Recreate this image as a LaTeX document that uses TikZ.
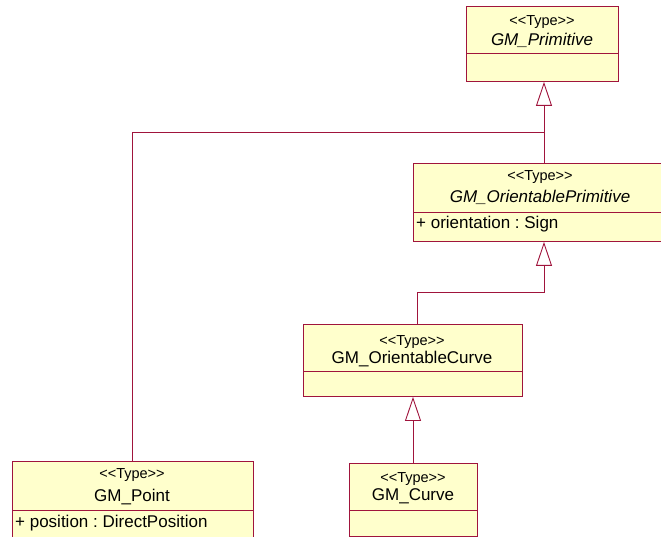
\documentclass[tikz,border=0pt]{standalone}
\usepackage{fontspec}
\setmainfont{Liberation Sans}[Ligatures=TeXOff]
\usetikzlibrary{arrows.meta}
\definecolor{umlline}{RGB}{160,20,60}
\definecolor{umlfill}{RGB}{255,255,204}
\frenchspacing
% stereotype label with plain angle brackets
\newcommand{\umltype}{<\kern0pt<Type>\kern0pt>}
\begin{document}
\begin{tikzpicture}[x=1pt,y=-1pt,
  classbox/.style={draw=umlline,fill=umlfill,line width=0.9pt,rectangle,inner sep=0pt,anchor=north west},
  stereo/.style={anchor=base,inner sep=0pt,font=\fontsize{14.5}{16}\selectfont},
  cname/.style={anchor=base,inner sep=0pt,font=\fontsize{17}{19}\selectfont},
  attr/.style={anchor=base west,inner sep=0pt,font=\fontsize{17}{19}\selectfont},
  divider/.style={draw=umlline,line width=0.9pt},
  assoc/.style={draw=umlline,line width=0.9pt},
  gen/.style={assoc,-{Triangle[open,length=24pt,width=16pt,fill=white]}}]
\useasboundingbox[fill=white] (0,0) rectangle (661,537);

% GM_Primitive
\node[classbox,minimum width=152pt,minimum height=75pt] (prim) at (466,6) {};
\draw[divider] (466,53) -- (618,53);
\node[stereo] (primS) at (542,26) {\umltype};
\node[cname] (primN) at (542,46) {\itshape GM\_Primitive};

% GM_OrientablePrimitive
\node[classbox,minimum width=252pt,minimum height=78pt] (oprim) at (413,163) {};
\draw[divider] (413,212) -- (665,212);
\node[stereo] (oprimS) at (540,181) {\umltype};
\node[cname] (oprimN) at (540,203) {\itshape GM\_OrientablePrimitive};
\node[attr] (oprimA) at (416,229) {+ orientation : Sign};

% GM_OrientableCurve
\node[classbox,minimum width=219pt,minimum height=72pt] (ocurve) at (303,324) {};
\draw[divider] (303,371) -- (522,371);
\node[stereo] (ocurveS) at (412,345) {\umltype};
\node[cname] (ocurveN) at (412,363) {GM\_OrientableCurve};

% GM_Curve
\node[classbox,minimum width=128pt,minimum height=73pt] (curve) at (349,463) {};
\draw[divider] (349,510) -- (477,510);
\node[stereo] (curveS) at (413,482) {\umltype};
\node[cname] (curveN) at (413,500) {GM\_Curve};

% GM_Point
\node[classbox,minimum width=241pt,minimum height=84pt] (point) at (12,461) {};
\draw[divider] (12,510) -- (253,510);
\node[stereo] (pointS) at (132,478) {\umltype};
\node[cname] (pointN) at (132,501) {GM\_Point};
\node[attr] (pointA) at (15,527) {+ position : DirectPosition};

% generalisations
\coordinate (join) at (544,132);
\draw[gen] (oprim.north -| join) -- (prim.south -| join);
\draw[assoc] (point.north -| 132,0) |- (join);
\coordinate (bend) at (544,292);
\draw[gen] (ocurve.north -| 417,0) |- (bend) -- (oprim.south -| bend);
\draw[gen] (curve.north -| 413,0) -- (ocurve.south -| 413,0);
\end{tikzpicture}
\end{document}
